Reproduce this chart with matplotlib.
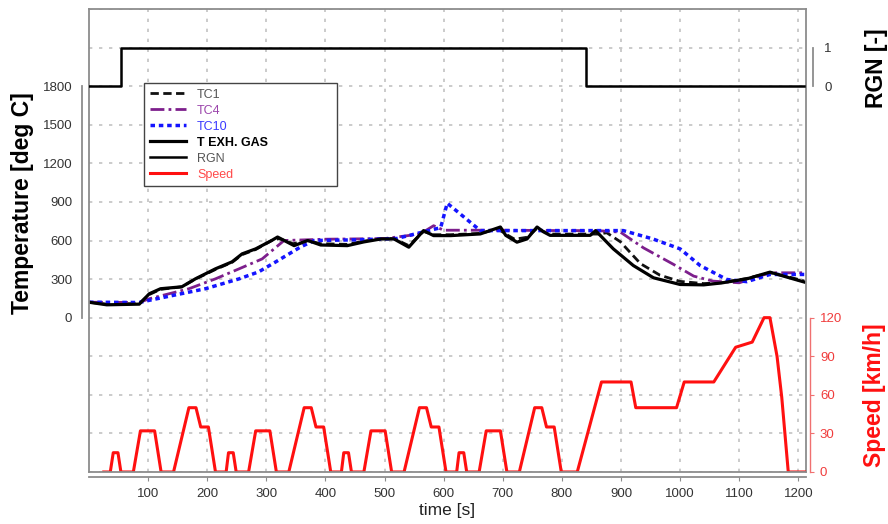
import numpy as np
import matplotlib
matplotlib.use('Agg')
from matplotlib import pyplot as plt

plt.rcParams['font.family'] = ['Liberation Sans', 'DejaVu Sans']

# exhaust gas temperature [deg C]
t_exh = [0, 30, 85, 102, 121, 157, 180, 214, 242, 259, 282, 309, 319, 347, 370,
         392, 437, 465, 494, 516, 541, 566, 583, 612, 662, 696, 705, 724, 741,
         758, 769, 780, 848, 857, 887, 921, 955, 1000, 1040, 1070, 1113, 1152,
         1181, 1210]
T_exh = [120, 100, 105, 186, 225, 240, 302, 380, 434, 496, 535, 600, 627, 560,
         600, 565, 560, 589, 612, 612, 548, 677, 638, 638, 651, 705, 640, 587,
         612, 705, 667, 640, 640, 677, 535, 405, 310, 258, 255, 270, 302, 354,
         315, 277]

# thermocouple 1
t_tc1 = [0, 30, 85, 102, 121, 157, 180, 214, 242, 259, 282, 309, 322, 345, 370,
         392, 437, 465, 494, 516, 541, 566, 583, 612, 662, 692, 705, 720, 741,
         758, 769, 780, 860, 876, 899, 933, 966, 1000, 1040, 1070, 1113, 1152,
         1181, 1210]
T_tc1 = [120, 105, 110, 180, 220, 240, 300, 375, 430, 490, 530, 600, 615, 575,
         600, 575, 570, 595, 615, 615, 560, 670, 645, 645, 655, 690, 650, 610,
         625, 695, 670, 650, 650, 660, 590, 420, 330, 282, 265, 272, 305, 350,
         320, 285]

# thermocouple 4
t_tc4 = [0, 85, 102, 169, 214, 254, 293, 309, 330, 400, 500, 560, 583, 600, 650,
         700, 800, 860, 899, 938, 989, 1023, 1056, 1100, 1152, 1210]
T_tc4 = [120, 118, 147, 225, 302, 380, 457, 519, 600, 610, 615, 650, 715, 680,
         680, 680, 677, 677, 665, 543, 414, 323, 284, 271, 349, 349]

# thermocouple 10
t_tc10 = [0, 85, 102, 140, 197, 254, 287, 316, 358, 381, 450, 520, 566, 595,
          606, 635, 662, 700, 800, 904, 954, 1000, 1034, 1079, 1113, 1152, 1210]
T_tc10 = [120, 118, 135, 171, 225, 302, 356, 434, 550, 600, 605, 615, 667, 700,
          890, 780, 677, 677, 677, 677, 612, 535, 405, 297, 280, 336, 336]

# regeneration flag
t_rgn = [0, 54, 840, 1210]
rgn = [0, 1, 0, 0]

# vehicle speed [km/h]
t_spd = [25, 36, 41, 49, 54, 75, 87, 111, 122, 143, 169, 181, 189, 202, 214,
         232, 236, 244, 249, 270, 282, 306, 317, 338, 364, 376, 384, 397, 409,
         427, 431, 439, 444, 465, 477, 501, 512, 533, 559, 571, 579, 592, 604,
         622, 626, 634, 639, 660, 672, 696, 707, 728, 754, 766, 774, 787, 799,
         826, 867, 917, 925, 994, 1007, 1057, 1094, 1122, 1142, 1152, 1164,
         1172, 1183, 1211]
spd = [0, 0, 15, 15, 0, 0, 32, 32, 0, 0, 50, 50, 35, 35, 0,
       0, 15, 15, 0, 0, 32, 32, 0, 0, 50, 50, 35, 35, 0,
       0, 15, 15, 0, 0, 32, 32, 0, 0, 50, 50, 35, 35, 0,
       0, 15, 15, 0, 0, 32, 32, 0, 0, 50, 50, 35, 35, 0,
       0, 70, 70, 50, 50, 70, 70, 97, 101, 120, 120, 90,
       58, 0, 0]

x_ticks = list(range(100, 1201, 100))
temp_ticks = list(range(0, 1801, 300))
spd_ticks = list(range(0, 121, 30))

frame_c = '#8c8c8c'
grid_c = '#c2c2c2'
purple = '#7d1f8c'
blue = '#1414ff'
red = '#ff1010'

fig = plt.figure(figsize=(8.88, 5.24), dpi=100)
W, H = 888, 524
ax = fig.add_axes([89 / W, 52 / H, 717 / W, 463 / H])

# temperature traces (grid axes carries the temperature scale)
l_tc1, = ax.plot(t_tc1, T_tc1, color='#111111', lw=2.0, ls=(0, (3, 1.6)))
l_tc4, = ax.plot(t_tc4, T_tc4, color=purple, lw=2.0, ls=(0, (5, 1.5, 1, 1.5)))
l_tc10, = ax.plot(t_tc10, T_tc10, color=blue, lw=2.5, ls=(0, (1.3, 1.1)))
l_exh, = ax.plot(t_exh, T_exh, color='black', lw=2.3)
ax.set_xlim(0, 1213)
ax.set_ylim(-1200, 2400)
ax.set_yticks(list(range(-1200, 2401, 300)))
ax.set_xticks(x_ticks)
ax.grid(True, color=grid_c, lw=1.2, ls=(0, (2, 4)))
ax.tick_params(axis='y', length=0, labelleft=False)
ax.tick_params(axis='x', direction='out', length=3, color=frame_c,
               labelsize=9.5, labelcolor='#333333', pad=5)
for s in ['top', 'right', 'left']:
    ax.spines[s].set_color(frame_c)
    ax.spines[s].set_linewidth(1.3)
ax.spines['bottom'].set_position(('outward', 3.6))
ax.spines['bottom'].set_color(frame_c)
ax.spines['bottom'].set_linewidth(1.3)
ax.spines['bottom'].set_bounds(0, 1213)
ax.set_xlabel('time [s]', fontsize=12.5, color='#222222', labelpad=2)

# left temperature bracket
axl = ax.twinx()
axl.set_ylim(ax.get_ylim())
axl.yaxis.tick_left()
for s in ['top', 'right', 'bottom']:
    axl.spines[s].set_visible(False)
axl.spines['left'].set_position(('outward', 5))
axl.spines['left'].set_bounds(0, 1800)
axl.spines['left'].set_color(frame_c)
axl.spines['left'].set_linewidth(1.3)
axl.set_yticks(temp_ticks)
axl.set_yticks([0, 1800], minor=True)
axl.tick_params(axis='y', which='major', length=0, pad=7, labelsize=9.5,
                labelcolor='#333333')
axl.tick_params(axis='y', which='minor', direction='in', length=4.5,
                color=frame_c, width=1.3)
axl.yaxis.set_label_position('left')
axl.set_ylabel('Temperature [deg C]', fontsize=16.5, fontweight='bold', va='center')
axl.yaxis.set_label_coords(-0.0934, 0.581)

# regeneration flag
axr = ax.twinx()
l_rgn, = axr.plot(t_rgn, rgn, color='black', lw=1.8, drawstyle='steps-post')
axr.set_ylim(-10, 2)
for s in ['top', 'left', 'bottom']:
    axr.spines[s].set_visible(False)
axr.spines['right'].set_position(('outward', 5))
axr.spines['right'].set_bounds(0, 1)
axr.spines['right'].set_color(frame_c)
axr.spines['right'].set_linewidth(1.3)
axr.set_yticks([0, 1])
axr.set_yticks([0, 1], minor=True)
axr.tick_params(axis='y', which='major', length=0, pad=8, labelsize=9.5,
                labelcolor='#333333')
axr.tick_params(axis='y', which='minor', direction='in', length=4.5,
                color=frame_c, width=1.3)
axr.set_ylabel('RGN [-]', fontsize=16.5, fontweight='bold', va='center')
axr.yaxis.set_label_coords(1.099, 0.8726)

# vehicle speed
axs = ax.twinx()
l_spd, = axs.plot(t_spd, spd, color=red, lw=2.2)
axs.set_ylim(0, 360)
for s in ['top', 'left']:
    axs.spines[s].set_visible(False)
axs.spines['bottom'].set_color(frame_c)
axs.spines['bottom'].set_linewidth(1.3)
axs.spines['right'].set_position(('outward', 3))
axs.spines['right'].set_bounds(0, 120)
axs.spines['right'].set_color('#f07070')
axs.spines['right'].set_linewidth(1.0)
axs.set_yticks(spd_ticks)
axs.tick_params(axis='y', direction='out', length=3, color='#f07070', pad=4,
                labelsize=9.5, labelcolor='#f03c3c')
axs.set_ylabel('Speed [km/h]', fontsize=16.5, fontweight='bold', color=red,
               va='center')
axs.yaxis.set_label_coords(1.096, 0.166)

handles = [l_tc1, l_tc4, l_tc10, l_exh, l_rgn, l_spd]
labels = ['TC1', 'TC4', 'TC10', 'T EXH. GAS', 'RGN', 'Speed']
leg = axs.legend(handles, labels, loc='upper left', mode='expand',
                 bbox_to_anchor=(144 / W, 1 - 184 / H, 193 / W, 101 / H),
                 bbox_transform=fig.transFigure, fontsize=9, handlelength=2.9,
                 handletextpad=0.9, labelspacing=0.32, borderpad=0.45,
                 borderaxespad=0, fancybox=False, framealpha=1)
leg.get_frame().set_edgecolor('#444444')
leg.get_frame().set_linewidth(1.0)
label_colors = ['#555555', '#9b45ab', '#3a3aff', 'black', '#555555', '#ff4a4a']
for txt, c in zip(leg.get_texts(), label_colors):
    txt.set_color(c)
leg.get_texts()[3].set_fontweight('bold')

fig.savefig('out.png', dpi=100)
